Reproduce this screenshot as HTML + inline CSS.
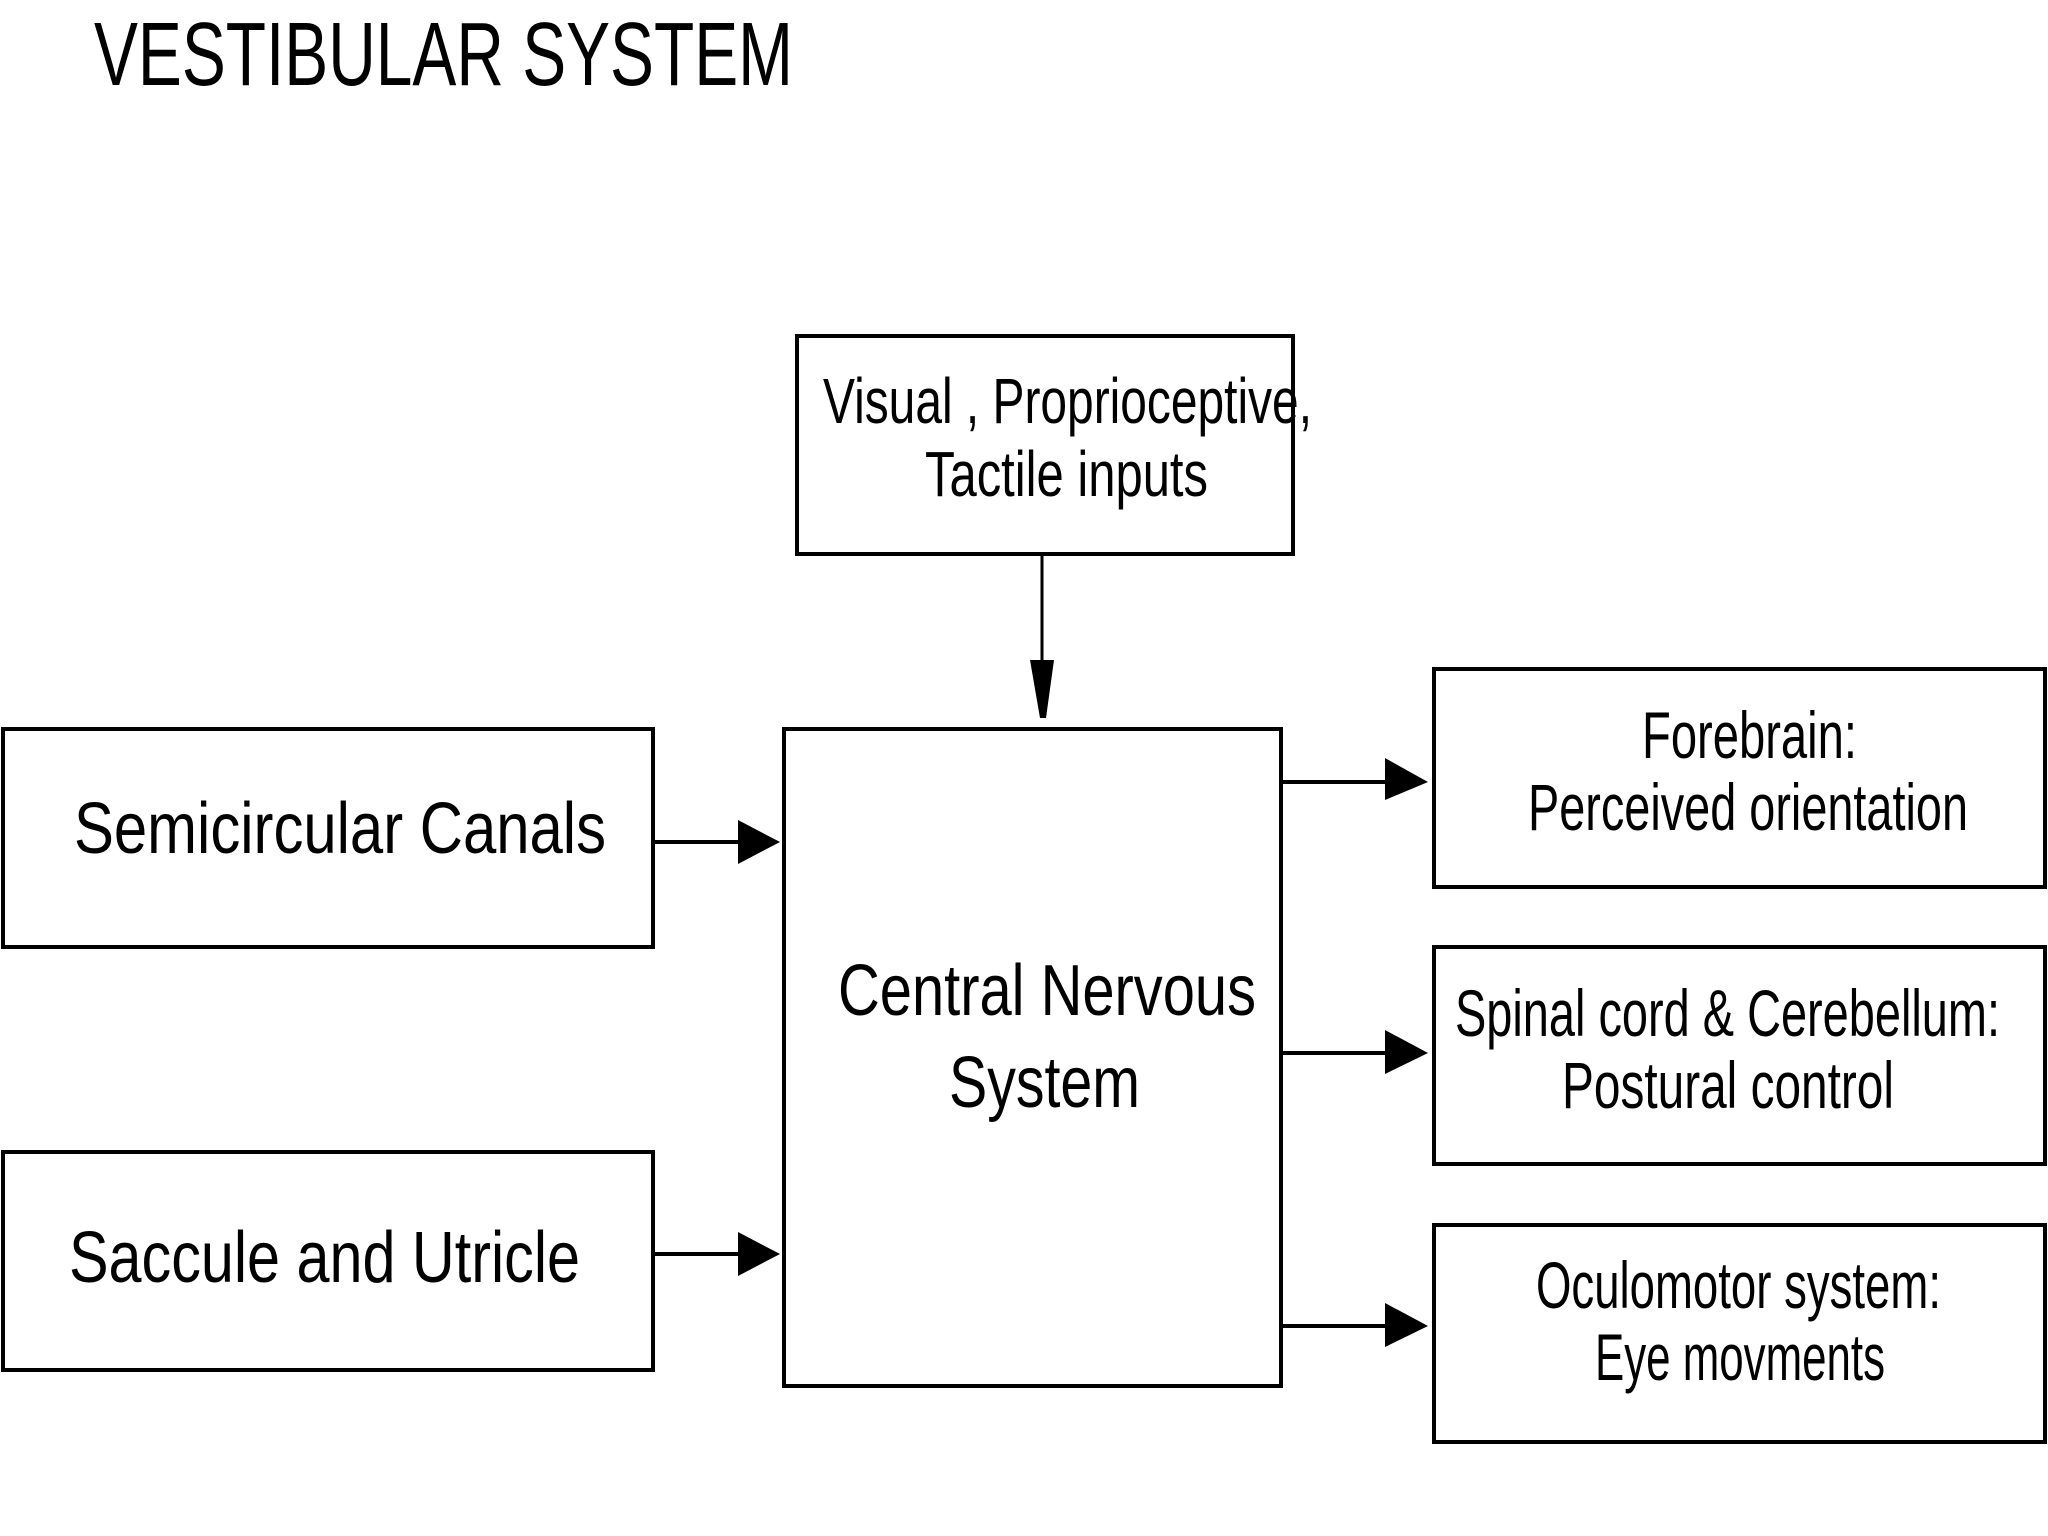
<!DOCTYPE html>
<html><head><meta charset="utf-8"><style>
html,body{margin:0;padding:0;background:#fff;width:2048px;height:1536px;overflow:hidden}
svg{display:block}
text{font-family:"Liberation Sans",sans-serif;fill:#000}
</style></head><body>
<svg width="2048" height="1536" viewBox="0 0 2048 1536" xmlns="http://www.w3.org/2000/svg">
<g fill="none" stroke="#000" stroke-width="4">
<rect x="797" y="336" width="496" height="218"/>
<rect x="784" y="729" width="497" height="657"/>
<rect x="3" y="729" width="650" height="218"/>
<rect x="3" y="1152" width="650" height="218"/>
<rect x="1434" y="669" width="611" height="218"/>
<rect x="1434" y="947" width="611" height="217"/>
<rect x="1434" y="1225" width="611" height="217"/>
<line x1="1042" y1="554" x2="1042" y2="700" stroke-width="3"/>
<line x1="653" y1="842" x2="745" y2="842"/>
<line x1="653" y1="1254" x2="745" y2="1254"/>
<line x1="1281" y1="782" x2="1390" y2="782"/>
<line x1="1281" y1="1053" x2="1390" y2="1053"/>
<line x1="1281" y1="1326" x2="1390" y2="1326"/>
</g>
<g fill="#000">
<polygon points="1030,660 1054,660 1046,718 1040,718"/>
<polygon points="738,820 780,842 738,864"/>
<polygon points="738,1232 780,1254 738,1276"/>
<polygon points="1385,758 1428,782 1385,800"/>
<polygon points="1385,1030 1428,1053 1385,1074"/>
<polygon points="1385,1303 1428,1326 1385,1347"/>
</g>
<text x="94" y="85" font-size="90" textLength="699" lengthAdjust="spacingAndGlyphs">VESTIBULAR SYSTEM</text>
<text x="823" y="423" font-size="64" textLength="489" lengthAdjust="spacingAndGlyphs">Visual , Proprioceptive,</text>
<text x="925" y="496" font-size="64" textLength="283" lengthAdjust="spacingAndGlyphs">Tactile inputs</text>
<text x="74" y="853" font-size="72" textLength="532" lengthAdjust="spacingAndGlyphs">Semicircular Canals</text>
<text x="69" y="1282" font-size="72" textLength="511" lengthAdjust="spacingAndGlyphs">Saccule and Utricle</text>
<text x="838" y="1015" font-size="72" textLength="418" lengthAdjust="spacingAndGlyphs">Central Nervous</text>
<text x="949" y="1107" font-size="72" textLength="191" lengthAdjust="spacingAndGlyphs">System</text>
<text x="1642" y="758" font-size="66" textLength="215" lengthAdjust="spacingAndGlyphs">Forebrain:</text>
<text x="1528" y="830" font-size="66" textLength="440" lengthAdjust="spacingAndGlyphs">Perceived orientation</text>
<text x="1455" y="1036" font-size="66" textLength="545" lengthAdjust="spacingAndGlyphs">Spinal cord &amp; Cerebellum:</text>
<text x="1562" y="1108" font-size="66" textLength="332" lengthAdjust="spacingAndGlyphs">Postural control</text>
<text x="1536" y="1308" font-size="66" textLength="405" lengthAdjust="spacingAndGlyphs">Oculomotor system:</text>
<text x="1595" y="1380" font-size="66" textLength="290" lengthAdjust="spacingAndGlyphs">Eye movments</text>
</svg>
</body></html>
